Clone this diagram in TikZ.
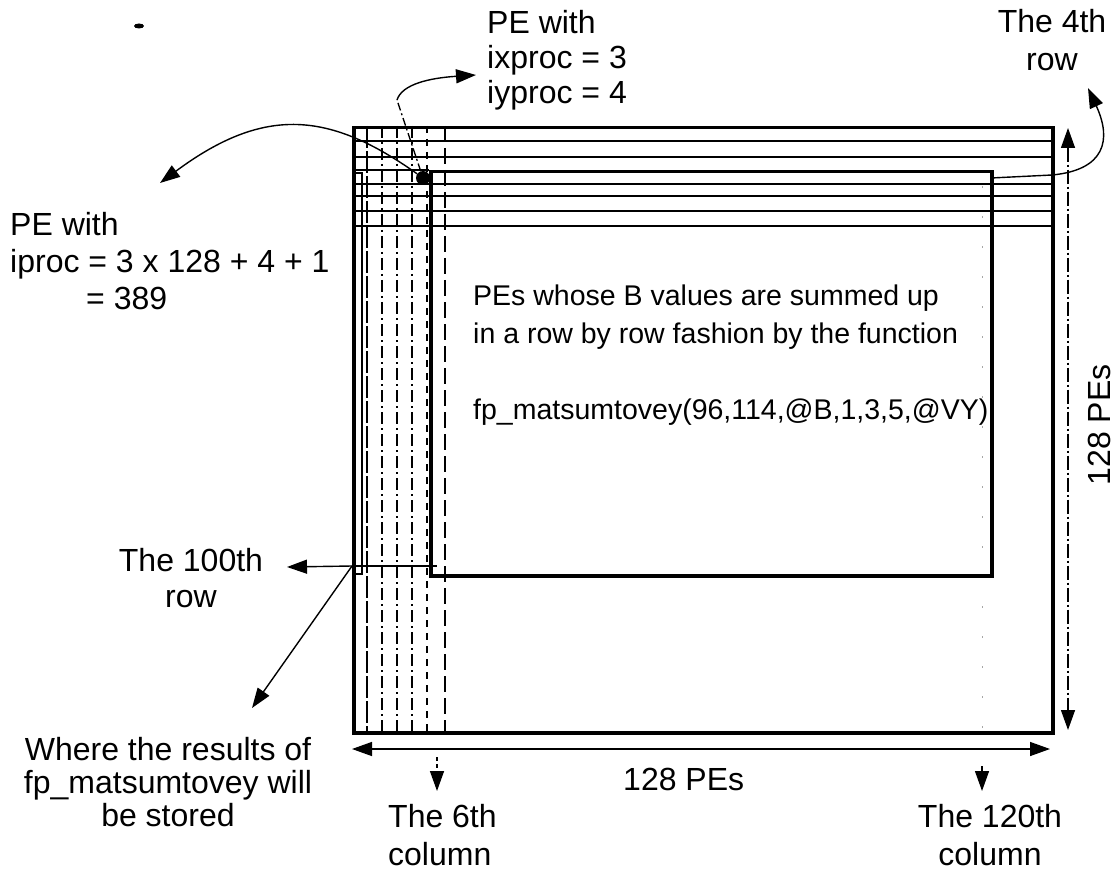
\documentclass[tikz,border=0pt]{standalone}
\usepackage{fontspec}
\setmainfont{Liberation Sans}
\usetikzlibrary{arrows.meta}
\begin{document}
\begin{tikzpicture}[x=1pt,y=-1pt,
  lbl/.style={font=\fontsize{32}{37}\selectfont, inner sep=0pt},
  ctext/.style={font=\fontsize{28.5}{38}\selectfont, inner sep=0pt, align=left, anchor=north west},
  boxline/.style={draw, line width=3.5pt, inner sep=0pt, anchor=north west},
  hline/.style={line width=1.8pt},
  vA/.style={line width=1.3pt, dash pattern=on 22pt off 3pt},
  vB/.style={line width=1.3pt, dash pattern=on 12pt off 4pt on 2pt off 4pt},
  vC/.style={line width=1.3pt, dash pattern=on 7pt off 6pt},
  vD/.style={line width=1.3pt, dash pattern=on 16pt off 6pt},
  tip/.style={-{Triangle[length=20pt,width=14pt]}},
  arr/.style={line width=1.4pt, tip},
  darr/.style={line width=1.4pt, {Triangle[length=20pt,width=14pt]}-{Triangle[length=20pt,width=14pt]}},
]
\useasboundingbox (0,0) rectangle (1115,874);

% stray mark
\fill (139,26) ellipse [x radius=5pt, y radius=2.5pt];

% vertical grid lines
\draw[vA] (367,126) -- (367,731);
\draw[vB] (382,126) -- (382,731);
\draw[vB] (397,126) -- (397,731);
\draw[vB] (412,126) -- (412,731);
\draw[vC] (427,126) -- (427,731);
\draw[vD] (445,126) -- (445,731);
\draw[line width=0.9pt, gray!70, dash pattern=on 2pt off 28pt] (982,126) -- (982,731);

% horizontal grid lines
\foreach \y in {141,157,184,196,211,226} \draw[hline] (352,\y) -- (1051,\y);
\draw[hline] (352,170) -- (429,170);
\draw[hline] (352,566) -- (437,566);

% result column
\draw[line width=1.2pt] (355,173) rectangle (362,574);

% boxes
\node (outer) [boxline, minimum width=699pt, minimum height=605pt] at (352,126) {};
\node (inner) [boxline, minimum width=561pt, minimum height=404pt] at (429,170) {};

% PE blob
\node (pe) [circle, fill=black, minimum size=14pt, inner sep=0pt] at (423,178) {};

% labels
\node (peA) [lbl, align=left, anchor=north west, font=\fontsize{32}{35}\selectfont] at (487,10) {PE with\\ixproc = 3\\iyproc = 4};
\node (row4) [lbl, align=center, anchor=north, font=\fontsize{32}{38}\selectfont] at (1052,9) {The 4th\\row};
\node (peB) [lbl, align=left, anchor=north west] at (10,212) {PE with\\iproc = 3 x 128 + 4 + 1\\\hspace*{76pt}= 389};
\node (row100) [lbl, align=center, anchor=north, font=\fontsize{32}{36}\selectfont] at (191,548) {The 100th\\row};
\node (where) [lbl, align=center, anchor=north, font=\fontsize{32}{33}\selectfont] at (168,737) {Where the results of\\fp\_matsumtovey will\\be stored};
\node (col6) [lbl, align=left, anchor=north west, font=\fontsize{32}{38}\selectfont] at (388,804) {The 6th\\column};
\node (col120) [lbl, align=center, anchor=north, font=\fontsize{32}{38}\selectfont] at (990,804) {The 120th\\column};
\node (pesx) [lbl, anchor=base west] at (623,790) {128 PEs};
\node (pesy) [lbl, rotate=90] at (1099,425) {128 PEs};
\node (desc) [ctext] at (473,284.5) {PEs whose B values are summed up\\in a row by row fashion by the function\\[38pt]fp\_matsumtovey(96,114,@B,1,3,5,@VY)};

% connectors
\coordinate (bend) at (397,100);
\coordinate (peAtip) at (476,75);
\draw[line width=1.3pt, dash pattern=on 8pt off 3pt on 2pt off 3pt] (pe) -- (bend);
\draw[arr] (bend) .. controls (402,84) and (430,78) .. (peAtip);

\coordinate (peBtip) at (160,183);
\draw[arr] (pe) .. controls (330,112) and (265,105) .. (peBtip);

\coordinate (r4a) at (991,178);
\coordinate (r4b) at (1052,175);
\coordinate (r4tip) at (1088,88);
\draw[arr] (r4a) -- (r4b) .. controls (1105,170) and (1112,140) .. (r4tip);

\coordinate (r100) at (352,566);
\coordinate (r100tip) at (287,567);
\coordinate (wheretip) at (252,708);
\draw[arr] (r100) -- (r100tip);
\draw[arr] (r100) -- (wheretip);

\coordinate (bx1) at (352,749);
\coordinate (bx2) at (1050,749);
\draw[darr] (bx1) -- (bx2);

\coordinate (ry1) at (1068,128);
\coordinate (ry2) at (1068,730);
\draw[darr, dash pattern=on 14pt off 3pt on 2pt off 3pt] (ry1) -- (ry2);

\coordinate (c6a) at (437,757);
\coordinate (c6b) at (437,791);
\draw[arr, dash pattern=on 4pt off 3pt] (c6a) -- (c6b);

\coordinate (c120a) at (982,766);
\coordinate (c120b) at (982,791);
\draw[arr] (c120a) -- (c120b);
\end{tikzpicture}
\end{document}
